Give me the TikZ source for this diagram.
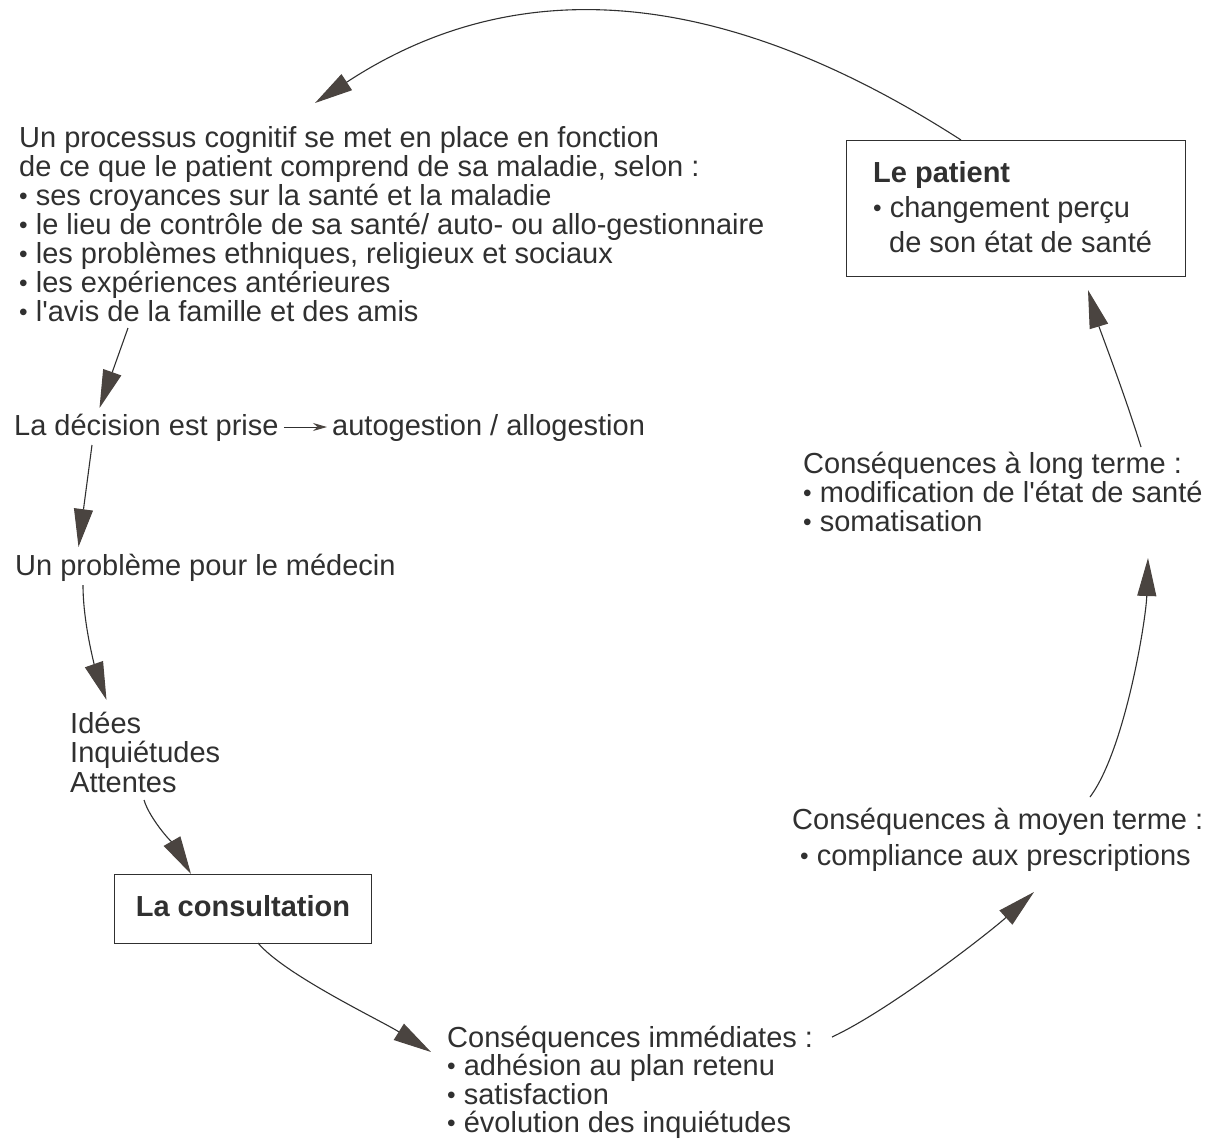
\documentclass[tikz,border=0pt]{standalone}
\usepackage{fontspec}
\setmainfont{Liberation Sans}[Ligatures=TeXOff]
\usetikzlibrary{arrows.meta}
\definecolor{ink}{HTML}{303030}
\definecolor{headc}{HTML}{4A4440}
\newcommand{\mystack}[2]{\vtop{\baselineskip=#1\lineskiplimit=-100pt\lineskip=0pt #2}}
\newcommand{\bul}{{\raisebox{0.8pt}{\fontsize{24.5}{24}\selectfont •}}\ }
\tikzset{
  txt/.style={anchor=base west, inner sep=0pt, text=ink, font=\fontsize{29}{29}\selectfont},
  conn/.style={draw=ink, line width=1.1pt, -{Triangle[length=38pt,width=19pt,color=headc,fill=headc]}},
  smallarr/.style={draw=ink, line width=1pt, -{Stealth[length=14pt,width=8pt,color=headc,fill=headc]}},
  boxed/.style={draw=ink, line width=1.3pt, inner sep=0pt}
}
\begin{document}
\begin{tikzpicture}[x=1pt,y=-1pt]
\useasboundingbox[fill=white] (0,0) rectangle (1221,1141);

% text blocks
\node[txt] (proc) at (19,147) {\mystack{29pt}{%
  \hbox{Un processus cognitif se met en place en fonction}
  \hbox{de ce que le patient comprend de sa maladie, selon :}
  \hbox{\bul ses croyances sur la santé et la maladie}
  \hbox{\bul le lieu de contrôle de sa santé/ auto- ou allo-gestionnaire}
  \hbox{\bul les problèmes ethniques, religieux et sociaux}
  \hbox{\bul les expériences antérieures}
  \hbox{\bul l'avis de la famille et des amis}}};

\node[txt] (dec) at (14,435) {La décision est prise};
\node[txt] (auto) at (332,435) {autogestion / allogestion};
\node[txt] (prob) at (15,575) {Un problème pour le médecin};
\node[txt] (idees) at (70,733) {\mystack{29.5pt}{%
  \hbox{Idées}\hbox{Inquiétudes}\hbox{Attentes}}};

\node[boxed, minimum width=257pt, minimum height=69pt, anchor=north west] (consbox) at (114,874) {};
\node[txt, anchor=base, font=\fontsize{29}{29}\selectfont\bfseries] (cons) at (243,916) {La consultation};

\node[txt] (imm) at (447,1047) {\mystack{28.5pt}{%
  \hbox{Conséquences immédiates :}
  \hbox{\bul adhésion au plan retenu}
  \hbox{\bul satisfaction}
  \hbox{\bul évolution des inquiétudes}}};

\node[txt] (moy) at (792,829) {\mystack{36pt}{%
  \hbox{Conséquences à moyen terme :}
  \hbox{\hspace{8pt}\bul compliance aux prescriptions}}};

\node[txt] (long) at (803,473) {\mystack{29pt}{%
  \hbox{Conséquences à long terme :}
  \hbox{\bul modification de l'état de santé}
  \hbox{\bul somatisation}}};

\node[boxed, minimum width=339pt, minimum height=136pt, anchor=north west] (patbox) at (846,140) {};
\node[txt] (pat) at (873,182) {\mystack{35pt}{%
  \hbox{\bfseries Le patient}
  \hbox{\bul changement perçu}
  \hbox{\hspace{16pt}de son état de santé}}};

% connector end points
\coordinate (a0s) at (961,140);
\coordinate (a0e) at (315,103);
\coordinate (a1s) at (128,328);
\coordinate (a1e) at (99.5,408);
\coordinate (a2s) at (92,445);
\coordinate (a2e) at (78.5,547);
\coordinate (a3s) at (83,585);
\coordinate (a3e) at (106.5,700);
\coordinate (a4s) at (144,800);
\coordinate (a4e) at (191,874);
\coordinate (a5s) at (258,943);
\coordinate (a5e) at (431,1052);
\coordinate (a6s) at (832,1037);
\coordinate (a6e) at (1034,892);
\coordinate (a7s) at (1090,797);
\coordinate (a7e) at (1148,558);
\coordinate (a8s) at (1141,447);
\coordinate (a8e) at (1088,290);

% connectors
\draw[conn] (a0s) .. controls (725,-12) and (519,-31) .. (a0e);
\draw[conn] (a1s) -- (a1e);
\draw[conn] (a2s) -- (a2e);
\draw[conn] (a3s) .. controls (83,625) and (96,670) .. (a3e);
\draw[conn] (a4s) .. controls (150,820) and (176,848) .. (a4e);
\draw[conn] (a5s) .. controls (285,975) and (380,1020) .. (a5e);
\draw[conn] (a6s) .. controls (890,1010) and (990,932) .. (a6e);
\draw[conn] (a7s) .. controls (1125,750) and (1146,620) .. (a7e);
\draw[conn] (a8s) .. controls (1125,395) and (1100,330) .. (a8e);
\draw[smallarr] ([xshift=5pt,yshift=8pt]dec.base east) -- ([xshift=-5pt,yshift=8pt]auto.base west);
\end{tikzpicture}
\end{document}
